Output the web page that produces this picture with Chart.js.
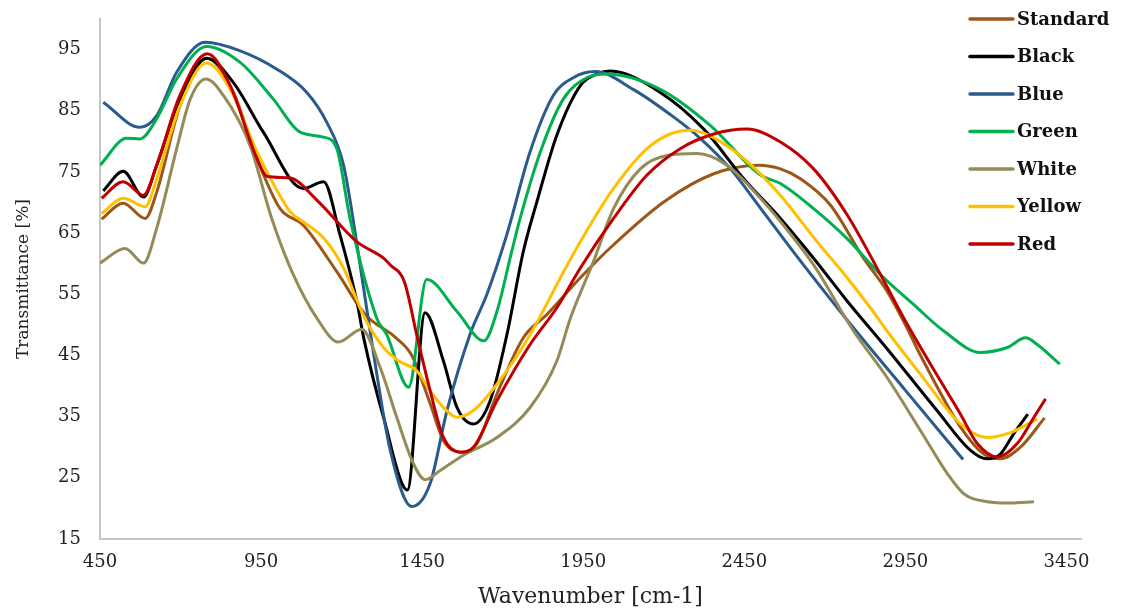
<!DOCTYPE html>
<html>
<head>
<meta charset="utf-8">
<script src="https://cdn.jsdelivr.net/npm/chart.js@4.4.1/dist/chart.umd.min.js"></script>
<style>
  html, body { margin: 0; padding: 0; background: #fff; }
  #wrap { width: 1121px; height: 612px; }
</style>
</head>
<body>
<div id="wrap"><canvas id="ftirChart" width="1121" height="612"></canvas></div>
<script>
// values (wavenumber, transmittance %)
const seriesNames = ["Standard", "Black", "Blue", "Green", "White", "Yellow", "Red"];
const seriesColors = ["#9C5718", "#000000", "#2A5B8E", "#00B050", "#958B57", "#FFC000", "#C00000"];

const xTicks = [450, 950, 1450, 1950, 2450, 2950, 3450];
const yTicks = [15, 25, 35, 45, 55, 65, 75, 85, 95];

const standardX = [455, 522, 590, 626, 698, 781, 864, 937, 1009, 1081, 1185, 1273, 1366, 1418, 1475, 1516, 1573, 1620, 1682, 1764, 1837, 1941, 2044, 2200, 2355, 2495, 2562, 2624, 2717, 2820, 2893, 2955, 2997, 3121, 3193, 3245, 3307, 3382];
const standardY = [67.3, 69.9, 67.4, 71.7, 85.8, 93.6, 88.0, 77.2, 69.0, 66.3, 58.7, 51.7, 48.0, 45.0, 37.1, 31.1, 29.2, 30.6, 38.7, 47.9, 51.7, 57.7, 63.1, 70.1, 74.7, 76.1, 75.5, 73.9, 69.6, 60.9, 55.5, 49.5, 45.0, 33.3, 28.9, 28.1, 30.0, 34.8];

const blackX = [460, 522, 585, 626, 698, 781, 864, 957, 1081, 1144, 1195, 1247, 1270, 1330, 1404, 1459, 1516, 1558, 1609, 1661, 1713, 1764, 1806, 1868, 1941, 1992, 2034, 2189, 2324, 2448, 2562, 2665, 2769, 2893, 3048, 3152, 3204, 3245, 3286, 3330];
const blackY = [71.9, 75.1, 70.9, 76.1, 86.9, 93.6, 89.6, 81.5, 72.3, 73.4, 64.7, 53.9, 47.5, 34.9, 23.0, 52.0, 44.1, 36.5, 33.8, 37.6, 48.4, 62.0, 70.1, 81.0, 89.1, 91.0, 91.5, 88.0, 82.0, 73.9, 67.4, 60.9, 53.9, 46.1, 36.0, 29.5, 28.1, 28.9, 32.2, 35.4];

const blueX = [460, 574, 626, 688, 776, 885, 999, 1092, 1154, 1206, 1251, 1298, 1351, 1418, 1475, 1527, 1599, 1651, 1713, 1785, 1857, 1919, 1987, 2105, 2230, 2313, 2407, 2500, 2603, 2769, 2950, 3129];
const blueY = [86.4, 82.3, 84.2, 91.3, 96.2, 94.8, 91.8, 88.0, 83.1, 76.1, 62.0, 45.7, 29.5, 20.3, 24.1, 36.0, 48.5, 55.0, 64.8, 78.3, 87.5, 90.4, 91.4, 88.5, 84.0, 80.5, 75.5, 69.1, 61.9, 50.8, 39.3, 28.0];

const greenX = [450, 533, 574, 626, 688, 781, 885, 988, 1071, 1143, 1185, 1226, 1309, 1340, 1408, 1464, 1558, 1642, 1682, 1728, 1754, 1817, 1888, 1961, 2023, 2189, 2344, 2500, 2562, 2665, 2769, 2873, 2976, 3069, 3183, 3266, 3323, 3359, 3429];
const greenY = [76.1, 80.5, 80.4, 83.7, 90.2, 95.5, 92.9, 86.9, 81.5, 80.7, 78.8, 67.4, 51.1, 48.4, 39.8, 57.4, 52.2, 47.4, 52.2, 62.0, 67.4, 78.3, 86.9, 90.4, 91.0, 88.5, 82.6, 74.5, 73.1, 69.0, 64.1, 58.2, 53.3, 49.0, 45.5, 46.3, 47.9, 46.8, 43.6];

const whiteX = [450, 528, 585, 626, 688, 730, 779, 833, 916, 983, 1050, 1123, 1190, 1262, 1320, 1371, 1423, 1459, 1506, 1578, 1682, 1785, 1868, 1910, 1982, 2044, 2127, 2210, 2303, 2396, 2500, 2562, 2665, 2789, 2893, 2997, 3080, 3131, 3204, 3276, 3349];
const whiteY = [60.1, 62.5, 60.1, 65.8, 78.8, 86.9, 90.2, 87.5, 79.3, 67.4, 58.2, 51.1, 47.2, 49.3, 43.0, 34.9, 27.3, 24.7, 26.2, 28.7, 31.6, 36.5, 44.1, 51.1, 60.4, 69.0, 75.5, 77.7, 78.0, 76.1, 70.7, 66.9, 59.8, 49.0, 41.4, 32.7, 25.7, 22.4, 21.1, 20.9, 21.1];

const yellowX = [455, 522, 590, 626, 698, 781, 854, 937, 999, 1040, 1090, 1144, 1206, 1268, 1330, 1380, 1433, 1475, 1516, 1558, 1609, 1682, 1785, 1889, 1941, 2044, 2148, 2220, 2282, 2344, 2448, 2562, 2603, 2665, 2769, 2841, 2893, 2997, 3121, 3204, 3276, 3359];
const yellowY = [68.2, 70.7, 69.3, 73.9, 85.8, 92.8, 88.5, 78.3, 72.0, 68.5, 66.5, 64.2, 59.3, 51.5, 46.3, 44.0, 42.5, 39.2, 36.5, 34.9, 36.0, 40.3, 48.4, 58.7, 63.6, 72.3, 78.8, 81.2, 81.8, 80.9, 77.2, 71.2, 68.5, 64.3, 57.7, 52.8, 49.0, 41.9, 33.8, 31.6, 32.4, 34.6];

const redX = [455, 522, 585, 626, 698, 783, 854, 937, 968, 1040, 1123, 1247, 1330, 1351, 1395, 1433, 1475, 1516, 1568, 1609, 1682, 1785, 1868, 1941, 2044, 2148, 2251, 2355, 2458, 2562, 2665, 2769, 2873, 2945, 3048, 3121, 3173, 3235, 3297, 3349, 3385];
const redY = [70.7, 73.4, 71.2, 76.1, 87.5, 94.3, 89.1, 77.2, 74.3, 74.0, 70.4, 63.6, 60.9, 59.8, 57.0, 48.4, 39.2, 31.6, 29.2, 30.0, 37.6, 46.8, 52.8, 59.3, 67.4, 74.5, 78.8, 81.2, 82.0, 79.9, 75.5, 68.0, 58.2, 51.1, 41.8, 35.4, 30.6, 28.4, 30.6, 34.9, 37.9];

const allX = [standardX, blackX, blueX, greenX, whiteX, yellowX, redX];
const allY = [standardY, blackY, blueY, greenY, whiteY, yellowY, redY];

const serif = '"DejaVu Serif", "Liberation Serif", serif';

// legend sits over the top right corner of the plot, so draw it by hand
const sideLegend = {
  id: "sideLegend",
  afterDraw(chart) {
    const ctx = chart.ctx;
    ctx.save();
    ctx.font = "bold 18px " + serif;
    ctx.textBaseline = "middle";
    ctx.lineCap = "round";
    chart.data.datasets.forEach((ds, i) => {
      const y = 19 + i * 37.5;
      ctx.strokeStyle = ds.borderColor;
      ctx.lineWidth = 3.5;
      ctx.beginPath();
      ctx.moveTo(970, y);
      ctx.lineTo(1013, y);
      ctx.stroke();
      ctx.fillStyle = "#111";
      ctx.fillText(ds.label, 1017, y + 1);
    });
    ctx.restore();
  }
};

const datasets = seriesNames.map((name, i) => ({
  label: name,
  data: allX[i].map((x, j) => ({ x: x, y: allY[i][j] })),
  borderColor: seriesColors[i],
  backgroundColor: seriesColors[i],
  borderWidth: 3,
  pointRadius: 0,
  cubicInterpolationMode: "monotone",
  fill: false,
  order: seriesNames.length - 1 - i // last series on top, like the original
}));

const ctx = document.getElementById("ftirChart").getContext("2d");
new Chart(ctx, {
  type: "line",
  data: { datasets: datasets },
  plugins: [sideLegend],
  options: {
    responsive: false,
    animation: false,
    maintainAspectRatio: false,
    layout: { padding: { top: 19, right: 40, left: 0, bottom: 0 } },
    plugins: {
      legend: { display: false },
      tooltip: { enabled: false }
    },
    scales: {
      x: {
        type: "linear",
        min: 450,
        max: 3495,
        afterBuildTicks: (scale) => { scale.ticks = xTicks.map((v) => ({ value: v })); },
        afterFit: (scale) => {
          scale.height = 73;
          scale.paddingLeft = 0;
          scale.paddingRight = 0;
        },
        grid: { display: false, drawTicks: false },
        border: { color: "#c4c4c4", width: 2 },
        ticks: {
          padding: 13,
          color: "#222",
          font: { family: serif, size: 18 },
          maxRotation: 0,
          callback: (v) => String(v)
        },
        title: {
          display: true,
          text: "Wavenumber [cm-1]",
          color: "#222",
          font: { family: serif, size: 22 },
          padding: { top: 0, bottom: 2 }
        }
      },
      y: {
        min: 15,
        max: 100,
        afterBuildTicks: (scale) => { scale.ticks = yTicks.map((v) => ({ value: v })); },
        afterFit: (scale) => {
          scale.width = 100;
          scale.paddingTop = 0;
          scale.paddingBottom = 0;
        },
        grid: { display: false, drawTicks: false },
        border: { color: "#c4c4c4", width: 2 },
        ticks: {
          padding: 19,
          color: "#222",
          font: { family: serif, size: 18 },
          callback: (v) => String(v)
        },
        title: {
          display: true,
          text: "Transmittance [%]",
          color: "#222",
          font: { family: serif, size: 17 },
          padding: { top: 13, bottom: 0 }
        }
      }
    }
  }
});
</script>
</body>
</html>
